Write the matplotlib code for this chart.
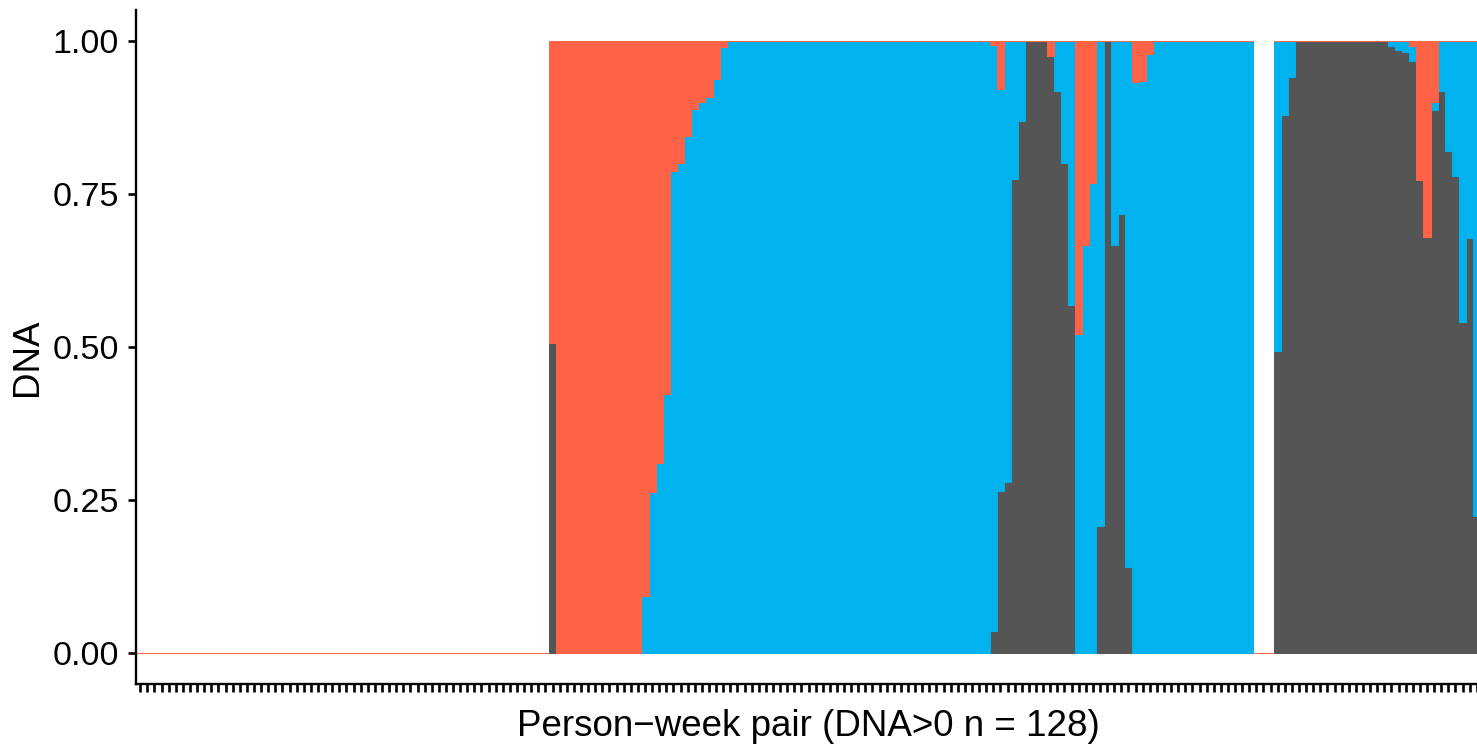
import matplotlib
matplotlib.use("Agg")
import matplotlib.pyplot as plt
import numpy as np

plt.rcParams["font.family"] = ["Liberation Sans", "DejaVu Sans"]

# Per person-week composition of DNA (stacked: gray bottom, blue middle, red top).
# 58 pairs with no DNA, 99 with DNA, 3 without, then 29 with DNA.
gray = (
    [0.0] * 58
    + [0.507]
    + [0.0] * 12
    + [0.0] * 12
    + [0.0] * 37
    + [0.036, 0.265, 0.279, 0.775, 0.869, 1.0, 1.0, 1.0, 0.975, 0.918,
       0.800, 0.569, 0.0, 0.0, 0.0, 0.208, 1.0, 0.667, 0.717, 0.141,
       0.0, 0.0, 0.0]
    + [0.0] * 14
    + [0.0] * 3
    + [0.493, 0.879, 0.940]
    + [1.0] * 13
    + [0.992, 0.984, 0.982, 0.966, 0.773, 0.680, 0.887, 0.918, 0.820, 0.779,
       0.540, 0.678, 0.224]
)
blue = (
    [0.0] * 58
    + [0.0]
    + [0.0] * 12
    + [0.093, 0.263, 0.310, 0.423, 0.787, 0.800, 0.845, 0.888, 0.900, 0.908,
       0.937, 0.990]
    + [1.0] * 37
    + [0.957, 0.656, 0.721, 0.225, 0.131, 0.0, 0.0, 0.0, 0.0, 0.082,
       0.200, 0.431, 0.522, 0.667, 0.767, 0.792, 0.0, 0.333, 0.283, 0.859,
       0.932, 0.934, 0.979]
    + [1.0] * 14
    + [0.0] * 3
    + [0.507, 0.121, 0.060]
    + [0.0] * 13
    + [0.008, 0.016, 0.018, 0.026, 0.0, 0.0, 0.013, 0.082, 0.180, 0.221,
       0.460, 0.322, 0.776]
)
red = (
    [0.0] * 58
    + [0.493]
    + [1.0] * 12
    + [0.907, 0.737, 0.690, 0.577, 0.213, 0.200, 0.155, 0.112, 0.100, 0.092,
       0.063, 0.010]
    + [0.0] * 37
    + [0.007, 0.079, 0.0, 0.0, 0.0, 0.0, 0.0, 0.0, 0.025, 0.0,
       0.0, 0.0, 0.478, 0.333, 0.233, 0.0, 0.0, 0.0, 0.0, 0.0,
       0.068, 0.066, 0.021]
    + [0.0] * 14
    + [0.0] * 3
    + [0.0, 0.0, 0.0]
    + [0.0] * 13
    + [0.0, 0.0, 0.0, 0.008, 0.227, 0.320, 0.100, 0.0, 0.0, 0.0,
       0.0, 0.0, 0.0]
)

GRAY = "#555555"
BLUE = "#00B2EE"
RED = "#FF6347"

gray = np.array(gray)
blue = np.array(blue)
red = np.array(red)
x = np.arange(1, len(gray) + 1)

fig = plt.figure(figsize=(14.77, 7.48), dpi=100)
ax = fig.add_axes([136 / 1477, 64 / 748, 1341 / 1477, 674 / 748])

lw = 0.7
ax.bar(x, gray, width=1.0, color=GRAY, edgecolor=GRAY, linewidth=lw)
ax.bar(x, blue, bottom=gray, width=1.0, color=BLUE, edgecolor=BLUE, linewidth=lw)
ax.bar(x, red, bottom=gray + blue, width=1.0, color=RED, edgecolor=RED, linewidth=lw)

ax.set_xlim(0.4, 0.4 + 1341 / 7.109)
ax.set_ylim(-0.05, 1.05)

ax.set_xticks(x)
ax.set_xticklabels([])
ax.set_yticks([0, 0.25, 0.5, 0.75, 1.0])
ax.set_yticklabels(["0.00", "0.25", "0.50", "0.75", "1.00"], fontsize=24.5)
ax.tick_params(axis="both", direction="out", length=5.8, width=1.9, color="black")
ax.tick_params(axis="y", pad=6.5)

for side in ["top", "right"]:
    ax.spines[side].set_visible(False)
for side in ["left", "bottom"]:
    ax.spines[side].set_linewidth(1.7)
    ax.spines[side].set_color("black")

ax.set_ylabel("DNA", fontsize=26.5, va="center", ha="center")
ax.yaxis.set_label_coords((27 - 136) / 1341, 0.485)
ax.set_xlabel("Person\u2212week pair (DNA>0 n = 128)", fontsize=26.5, va="center")
ax.xaxis.set_label_coords((808 - 136) / 1341, (684 - 727) / 674)

fig.savefig("out.png", dpi=100)
